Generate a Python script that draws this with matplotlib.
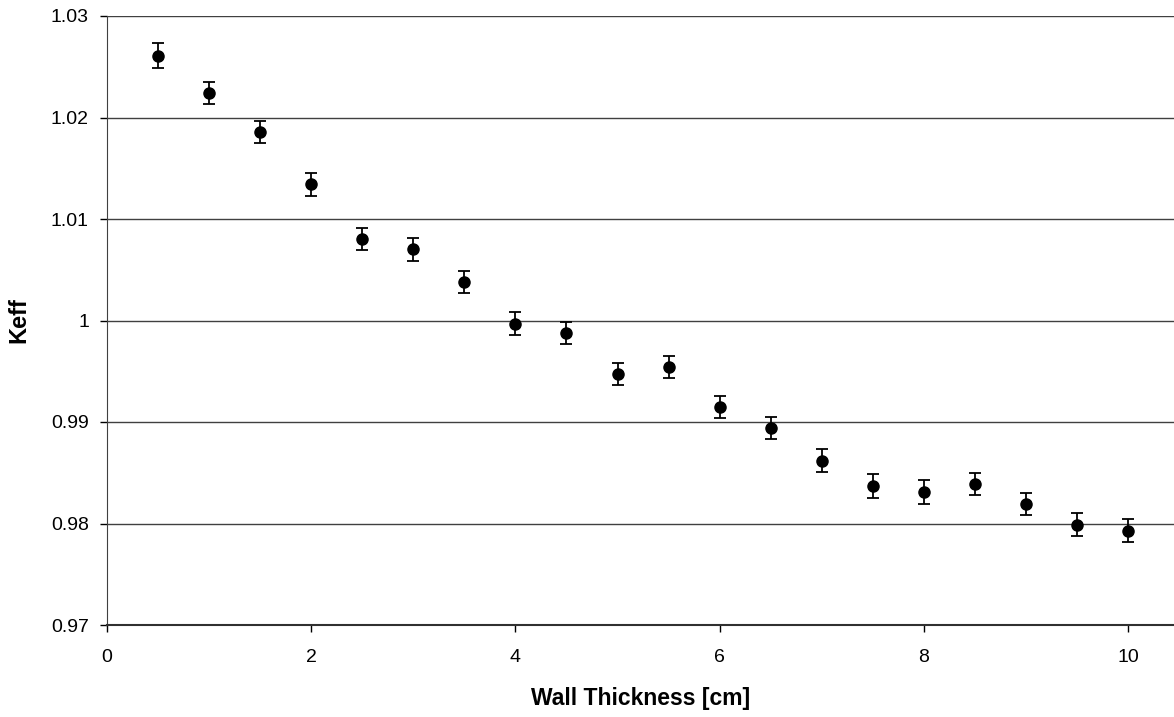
import numpy as np
import matplotlib.pyplot as plt
import matplotlib.ticker as ticker

plt.rcParams['font.family'] = ['Liberation Sans', 'DejaVu Sans']

# wall thickness [cm] vs keff
thickness = [0.5, 1.0, 1.5, 2.0, 2.5, 3.0, 3.5, 4.0, 4.5, 5.0,
             5.5, 6.0, 6.5, 7.0, 7.5, 8.0, 8.5, 9.0, 9.5, 10.0]
keff = [1.0261, 1.0224, 1.0186, 1.0134, 1.0080, 1.0070, 1.0038, 0.9997, 0.9988, 0.9947,
        0.9954, 0.9915, 0.9894, 0.9862, 0.9837, 0.9831, 0.9839, 0.9819, 0.9799, 0.9793]
keff_err = [0.0012, 0.0011, 0.0011, 0.0011, 0.0011, 0.0011, 0.0011, 0.0011, 0.0011, 0.0011,
            0.0011, 0.0011, 0.0011, 0.0011, 0.0012, 0.0012, 0.0011, 0.0011, 0.0011, 0.0011]

fig = plt.figure(figsize=(11.74, 7.17), dpi=100)
ax = fig.add_axes([107 / 1174, 1 - 625 / 717, 1 - 107 / 1174, (625 - 16) / 717])

ax.errorbar(thickness, keff, yerr=keff_err, fmt='o', color='black',
            markersize=8, elinewidth=1.3, capsize=4, capthick=1.3, zorder=3)

ax.set_xlim(0, 10.45)
ax.set_ylim(0.97, 1.03)
ax.xaxis.set_major_locator(ticker.MultipleLocator(2))
ax.yaxis.set_major_locator(ticker.MultipleLocator(0.01))
ax.yaxis.set_major_formatter(ticker.FuncFormatter(lambda v, p: f"{v:.2f}".rstrip('0').rstrip('.')))

ax.grid(axis='y', color='#404040', linewidth=1.0)
ax.set_axisbelow(True)
for s in ['top', 'right']:
    ax.spines[s].set_visible(False)
ax.spines['left'].set_color('#404040')
ax.spines['bottom'].set_color('#303030')
ax.spines['bottom'].set_linewidth(1.5)

ax.tick_params(direction='out', length=5, width=1, labelsize=14)
ax.tick_params(axis='x', pad=12)
ax.tick_params(axis='y', pad=8)

ax.set_xlabel("Wall Thickness [cm]", fontsize=16.5, fontweight='bold', va='center')
ax.set_ylabel("Keff", fontsize=17, fontweight='bold', va='center', ha='center')
ax.xaxis.set_label_coords(0.5, -0.12)
ax.yaxis.set_label_coords(-0.083, 0.5)

fig.savefig("out.png", dpi=100)
